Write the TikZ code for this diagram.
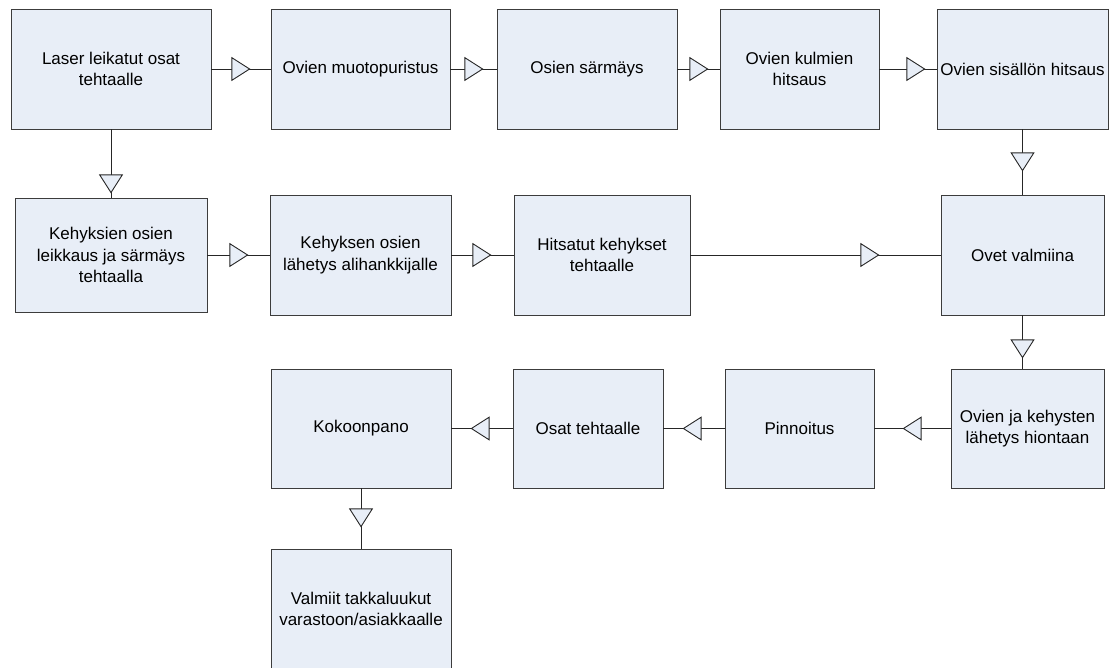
\documentclass[tikz,border=0pt]{standalone}
\usepackage{fontspec}
\setmainfont{Liberation Sans}
\usetikzlibrary{arrows.meta,decorations.markings}
\definecolor{boxfill}{RGB}{232,238,247}
\definecolor{boxline}{RGB}{60,60,60}

\begin{document}
\begin{tikzpicture}[x=1pt,y=-1pt,
        stage/.style={draw=boxline, fill=boxfill, line width=0.9pt, align=center,
            inner sep=0pt, font=\fontsize{17}{21.7}\selectfont},
        flow/.style={draw=black!85, line width=0.9pt, postaction={decorate,
            decoration={markings, mark=at position #1 with
                {\arrow{Triangle[length=19pt,width=24pt,fill=boxfill]}}}}}]
    \useasboundingbox (0,0) rectangle (1115,667);

    % first row
    \node[stage, minimum width=200pt, minimum height=120pt] (laser) at (111,69) {Laser leikatut osat\\tehtaalle};
    \node[stage, minimum width=179pt, minimum height=120pt] (puristus) at (360.5,69) {Ovien muotopuristus};
    \node[stage, minimum width=180pt, minimum height=120pt] (sarmays) at (587,69) {Osien särmäys};
    \node[stage, minimum width=159pt, minimum height=120pt] (kulmat) at (799.5,69) {Ovien kulmien\\hitsaus};
    \node[stage, minimum width=171pt, minimum height=120pt] (sisalto) at (1022.5,69) {Ovien sisällön hitsaus};

    % second row
    \node[stage, minimum width=192pt, minimum height=114pt] (kehysosat) at (111,255) {Kehyksien osien\\leikkaus ja särmäys\\tehtaalla};
    \node[stage, minimum width=181pt, minimum height=120pt] (lahetys) at (360.5,255) {Kehyksen osien\\lähetys alihankkijalle};
    \node[stage, minimum width=176pt, minimum height=120pt] (kehykset) at (602,255) {Hitsatut kehykset\\tehtaalle};
    \node[stage, minimum width=163pt, minimum height=120pt] (ovet) at (1022.5,255) {Ovet valmiina};

    % third row
    \node[stage, minimum width=180pt, minimum height=119pt] (kokoonpano) at (361,428.5) {Kokoonpano};
    \node[stage, minimum width=150pt, minimum height=119pt] (osat) at (588,428.5) {Osat tehtaalle};
    \node[stage, minimum width=149pt, minimum height=119pt] (pinnoitus) at (799.5,428.5) {Pinnoitus};
    \node[stage, minimum width=153pt, minimum height=119pt] (hionta) at (1027.5,428.5) {Ovien ja kehysten\\lähetys hiontaan};

    % last one runs off the page
    \node[stage, minimum width=180pt, minimum height=120pt] (valmiit) at (361,609) {Valmiit takkaluukut\\varastoon/asiakkaalle};

    \draw[flow=39pt] (laser) -- (puristus);
    \draw[flow=33pt] (puristus) -- (sarmays);
    \draw[flow=31pt] (sarmays) -- (kulmat);
    \draw[flow=46pt] (kulmat) -- (sisalto);
    \draw[flow=42pt] (sisalto) -- (ovet);
    \draw[flow=64pt] (laser) -- (kehysosat);
    \draw[flow=41pt] (kehysosat) -- (lahetys);
    \draw[flow=40pt] (lahetys) -- (kehykset);
    \draw[flow=189pt] (kehykset) -- (ovet);
    \draw[flow=43pt] (ovet.south) -- (ovet.south |- hionta.north);
    \draw[flow=48pt] (hionta) -- (pinnoitus);
    \draw[flow=42pt] (pinnoitus) -- (osat);
    \draw[flow=42pt] (osat) -- (kokoonpano);
    \draw[flow=39pt] (kokoonpano) -- (valmiit);
\end{tikzpicture}
\end{document}
